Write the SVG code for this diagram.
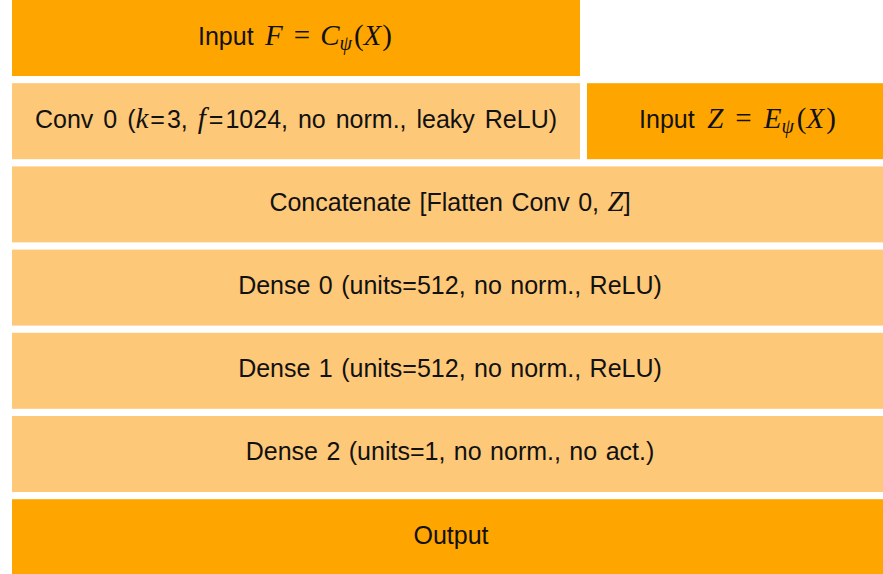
<svg xmlns="http://www.w3.org/2000/svg" width="883" height="574" viewBox="0 0 883 574">
<style>
.dark{fill:#FFA500}
.light{fill:#FEC879}
.t{font-family:"Liberation Sans","DejaVu Sans",sans-serif;font-size:25px;fill:#111;text-anchor:middle;word-spacing:1.5px}
.m{font-family:"Liberation Serif","DejaVu Serif",serif;font-style:italic;font-size:29px}
.r{font-family:"Liberation Serif","DejaVu Serif",serif;font-size:29px}
.s{font-size:20px}
.w{word-spacing:3px}
</style>
<rect width="883" height="574" fill="#fff"/>
<g id="input-f">
<rect class="dark" x="12" y="0" width="568" height="76"/>
<text class="t" x="295" y="45">Input <tspan class="m" dx="3">F</tspan><tspan class="r" dx="11">=</tspan><tspan class="m" dx="10">C</tspan><tspan class="m s" dy="5">ψ</tspan><tspan class="r" dy="-5" dx="2">(</tspan><tspan class="m">X</tspan><tspan class="r" dx="1">)</tspan></text>
</g>
<g id="conv0">
<rect class="light" x="12" y="83.2" width="568" height="76"/>
<text class="t w" x="296" y="127.5">Conv 0 (<tspan class="m">k</tspan><tspan dx="2">=</tspan><tspan dx="2">3,</tspan> <tspan class="m">f</tspan><tspan dx="3">=</tspan><tspan dx="2">1024,</tspan> no norm., leaky ReLU)</text>
</g>
<g id="input-z">
<rect class="dark" x="587" y="83.2" width="296" height="76"/>
<text class="t" x="737.5" y="128">Input <tspan class="m" dx="4">Z</tspan><tspan class="r" dx="12">=</tspan><tspan class="m" dx="12">E</tspan><tspan class="m s" dy="5">ψ</tspan><tspan class="r" dy="-5" dx="3">(</tspan><tspan class="m">X</tspan><tspan class="r" dx="2">)</tspan></text>
</g>
<g id="concatenate">
<rect class="light" x="12" y="166.4" width="871" height="76"/>
<text class="t" x="450" y="210.5">Concatenate [Flatten Conv 0, <tspan class="m">Z</tspan>]</text>
</g>
<g id="dense0">
<rect class="light" x="12" y="249.6" width="871" height="76"/>
<text class="t" x="450" y="294">Dense 0 (units=512, no norm., ReLU)</text>
</g>
<g id="dense1">
<rect class="light" x="12" y="332.8" width="871" height="76"/>
<text class="t" x="450" y="377">Dense 1 (units=512, no norm., ReLU)</text>
</g>
<g id="dense2">
<rect class="light" x="12" y="416" width="871" height="76"/>
<text class="t" x="450" y="460">Dense 2 (units=1, no norm., no act.)</text>
</g>
<g id="output">
<rect class="dark" x="12" y="499.2" width="871" height="76"/>
<text class="t" x="451" y="543.5">Output</text>
</g>
<g id="connectors"/>
</svg>
